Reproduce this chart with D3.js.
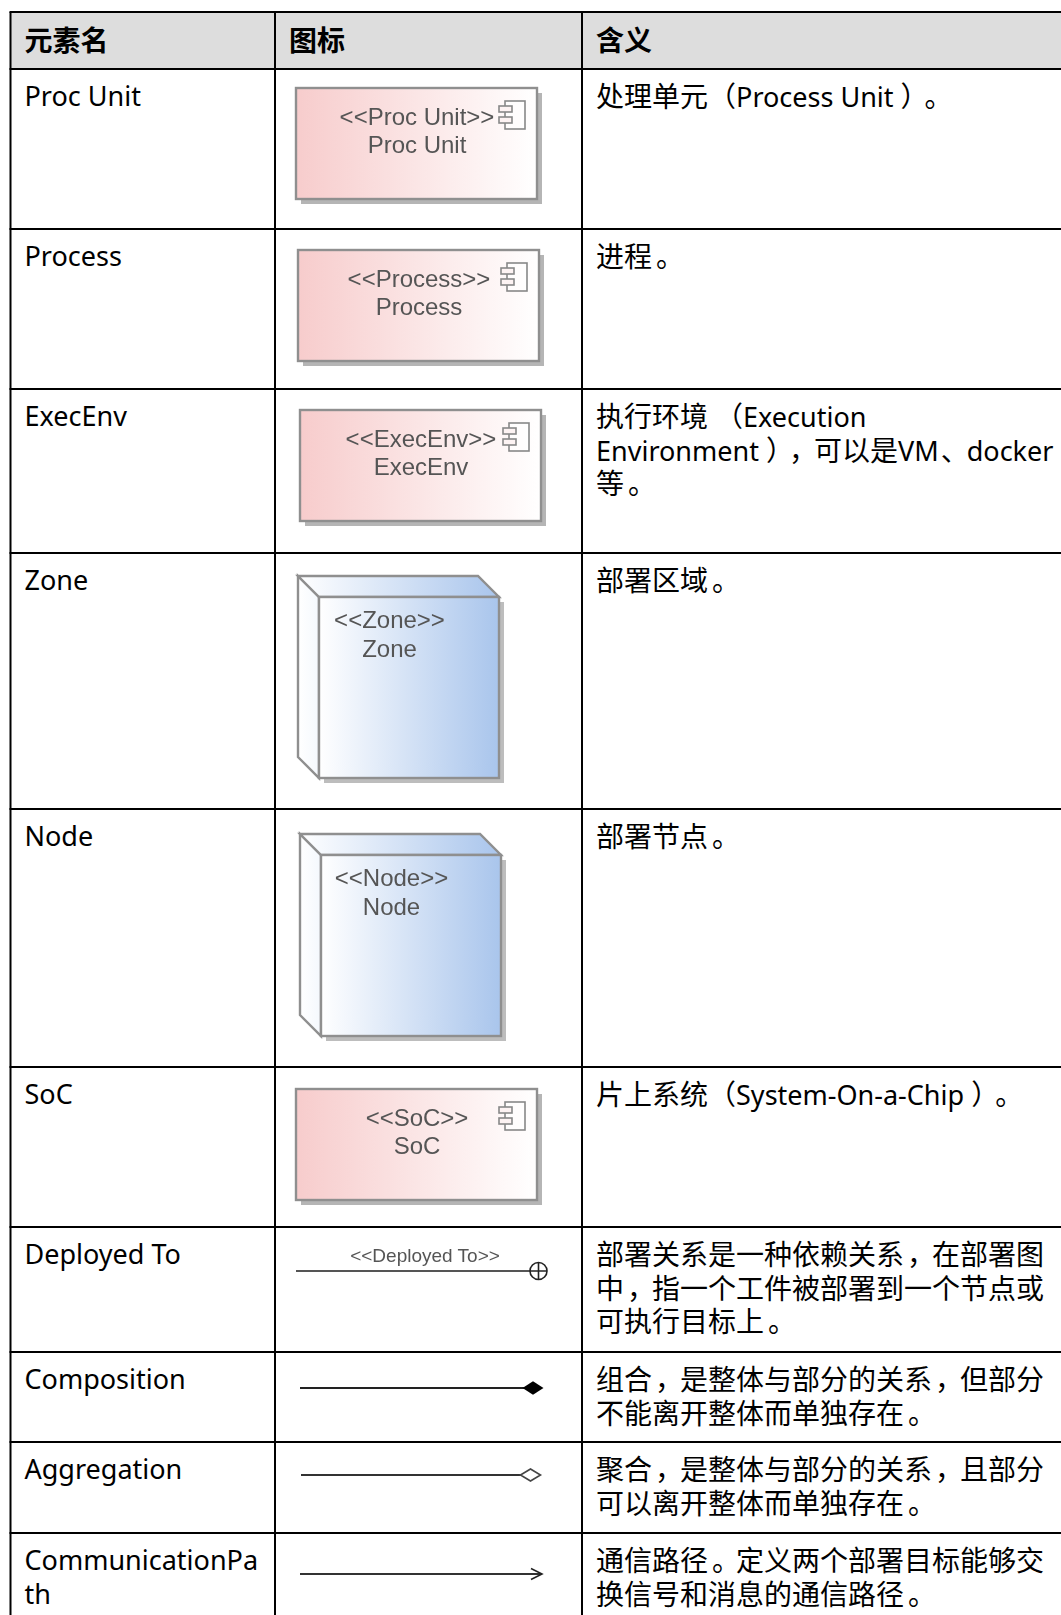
<!DOCTYPE html>
<html lang="zh">
<head>
    <meta charset="UTF-8">
    <title>元素</title>
    <style>
        html, body { margin: 0; padding: 0; background: #fff; }
        svg { display: block; }
        .cell { font-family: "Noto Sans", "Noto Sans CJK SC", sans-serif; font-size: 28px; fill: #000; white-space: pre; }
        .cell .latin, .name { font-size: 27px; }
        .head { font-family: "Noto Sans", "Noto Sans CJK SC", sans-serif; font-size: 28px; font-weight: 700; fill: #000; }
        .icon-text { font-family: "Liberation Sans", Arial, sans-serif; font-size: 24px; fill: #555; text-anchor: middle; }
    </style>
</head>
<body>
<script src="https://cdn.jsdelivr.net/npm/d3@7/dist/d3.min.js"></script>
<script>
    // table content
    let headers = ["元素名", "图标", "含义"];
    let elements = ["Proc Unit", "Process", "ExecEnv", "Zone", "Node", "SoC", "Deployed To", "Composition", "Aggregation", "CommunicationPath"];
    let nameLines = [["Proc Unit"], ["Process"], ["ExecEnv"], ["Zone"], ["Node"], ["SoC"], ["Deployed To"], ["Composition"], ["Aggregation"], ["CommunicationPa", "th"]];
    let iconKinds = ["component", "component", "component", "node", "node", "component", "deployed", "composition", "aggregation", "path"];
    let meanings = [
        ["处理单元（ Process Unit ）。"],
        ["进程。"],
        ["执行环境 （ Execution", "Environment ），可以是VM、docker", "等。"],
        ["部署区域。"],
        ["部署节点。"],
        ["片上系统（ System-On-a-Chip ）。"],
        ["部署关系是一种依赖关系，在部署图", "中，指一个工件被部署到一个节点或", "可执行目标上。"],
        ["组合，是整体与部分的关系，但部分", "不能离开整体而单独存在。"],
        ["聚合，是整体与部分的关系，且部分", "可以离开整体而单独存在。"],
        ["通信路径。定义两个部署目标能够交", "换信号和消息的通信路径。"]
    ];

    let width = 1061;
    let height = 1615;
    let headerTop = 12;
    let headerBottom = 69;

    // layout, kept apart from the content above
    let rowTops = [69, 229, 389, 553, 809, 1067, 1227, 1352, 1442, 1533];
    let colEdges = [10.5, 275, 582];
    let iconLeft = [296, 298, 300, 298, 300, 296, 296, 300, 301, 300];
    let iconTop = [88, 250, 410, 576, 834, 1089, 1271, 1388, 1475, 1574];
    // punctuation sits further right in its cell than the installed CJK font puts it:
    // [shift before the glyph, change of its advance, gap after it]
    let punctShift = {
        "（": [0, -7, 0],
        "）": [0, 0, 6],
        "。": [4, -4, 0],
        "，": [3, -3, 0],
        "、": [2, -2, 0]
    };

    let rowY = d3.scaleOrdinal().domain(elements).range(rowTops);
    let iconX = d3.scaleOrdinal().domain(elements).range(iconLeft);
    let iconY = d3.scaleOrdinal().domain(elements).range(iconTop);
    let colX = d3.scaleOrdinal().domain(headers).range(colEdges);
    let lineY = d3.scaleLinear().domain([0, 1]).range([38, 71.5]);

    let svg = d3.select("body").append("svg")
        .attr("width", width)
        .attr("height", height);

    let defs = svg.append("defs");
    function gradient(id, stops) {
        let g = defs.append("linearGradient").attr("id", id);
        stops.forEach((c, i) => {
            g.append("stop").attr("offset", i / (stops.length - 1)).attr("stop-color", c);
        });
    }
    gradient("pink", ["#f7cccc", "#ffffff"]);
    gradient("blue", ["#ffffff", "#a9c5ec"]);
    gradient("side", ["#ffffff", "#f4f8fd"]);
    defs.append("filter").attr("id", "soft")
        .append("feGaussianBlur").attr("stdDeviation", 0.5);

    // header band
    svg.append("rect")
        .attr("x", colEdges[0])
        .attr("y", headerTop)
        .attr("width", width - colEdges[0])
        .attr("height", headerBottom - headerTop)
        .attr("fill", "#dddddd");

    svg.selectAll("text.head")
        .data(headers)
        .enter()
        .append("text")
        .attr("class", "head")
        .attr("x", d => colX(d) + 14)
        .attr("y", 51)
        .text(d => d);

    // one line of the meaning column, cut into runs so latin and punctuation can differ
    function fillRuns(text, line) {
        let pending = 0;
        line.split(/([（）。，、]|[ -~]+)/).filter(s => s.length > 0).forEach(run => {
            let shift = punctShift[run] || [0, 0, 0];
            let span = text.append("tspan")
                .attr("dx", pending + shift[0])
                .style("letter-spacing", shift[1] + "px")
                .text(run);
            if (/^[ -~]/.test(run)) span.attr("class", "latin");
            pending = shift[2];
        });
    }

    // rows
    let rows = svg.selectAll("g.row")
        .data(elements)
        .enter()
        .append("g")
        .attr("class", "row");

    rows.each(function (d, i) {
        let row = d3.select(this);
        row.selectAll("text.name")
            .data(nameLines[i])
            .enter()
            .append("text")
            .attr("class", "cell name")
            .attr("x", colX(headers[0]) + 14)
            .attr("y", (t, j) => rowY(d) + lineY(j) - 1)
            .text(t => t);
        row.selectAll("text.meaning")
            .data(meanings[i])
            .enter()
            .append("text")
            .attr("class", "cell meaning")
            .attr("x", colX(headers[2]) + 14)
            .attr("y", (t, j) => rowY(d) + lineY(j))
            .each(function (t) { fillRuns(d3.select(this), t); });
    });

    // icons
    function drawComponent(g, label) {
        g.append("rect").attr("x", 5).attr("y", 5).attr("width", 241).attr("height", 111).attr("fill", "#b5b5b5");
        g.append("rect").attr("width", 241).attr("height", 111)
            .attr("fill", "url(#pink)").attr("stroke", "#8f8f8f").attr("stroke-width", 2.4);
        g.append("text").attr("class", "icon-text").attr("x", 121).attr("y", 37).text("<<" + label + ">>");
        g.append("text").attr("class", "icon-text").attr("x", 121).attr("y", 65).text(label);
        g.append("rect").attr("x", 209).attr("y", 13).attr("width", 20).attr("height", 28)
            .attr("fill", "#fff").attr("fill-opacity", 0.6).attr("stroke", "#888").attr("stroke-width", 1.6);
        [18, 29].forEach(y => {
            g.append("rect").attr("x", 203).attr("y", y).attr("width", 13).attr("height", 6)
                .attr("fill", "#fdf3f3").attr("stroke", "#888").attr("stroke-width", 1.6);
        });
    }

    function drawNode(g, label) {
        let d = 21, w = 180, h = 181, path = d3.path();
        g.append("rect").attr("x", d + 5).attr("y", d + 5).attr("width", w).attr("height", h).attr("fill", "#bdbdbd");
        path.moveTo(0, 0); path.lineTo(d, d); path.lineTo(d, d + h); path.lineTo(0, h); path.closePath();
        g.append("path").attr("d", path.toString()).attr("fill", "url(#side)").attr("stroke", "#8f8f8f").attr("stroke-width", 2.4);
        path = d3.path();
        path.moveTo(0, 0); path.lineTo(w, 0); path.lineTo(w + d, d); path.lineTo(d, d); path.closePath();
        g.append("path").attr("d", path.toString()).attr("fill", "url(#blue)").attr("stroke", "#8f8f8f").attr("stroke-width", 2.4);
        g.append("rect").attr("x", d).attr("y", d).attr("width", w).attr("height", h)
            .attr("fill", "url(#blue)").attr("stroke", "#8f8f8f").attr("stroke-width", 2.4);
        g.append("text").attr("class", "icon-text").attr("x", 91.5).attr("y", 52).text("<<" + label + ">>");
        g.append("text").attr("class", "icon-text").attr("x", 91.5).attr("y", 81).text(label);
    }

    function drawDeployed(g, label) {
        g.append("line").attr("x2", 242).attr("stroke", "#555").attr("stroke-width", 2.2);
        g.append("text").attr("class", "icon-text").attr("x", 129).attr("y", -9)
            .style("font-size", "19px").text("<<" + label + ">>");
        g.append("circle").attr("cx", 242.5).attr("r", 8.5).attr("fill", "#fff").attr("stroke", "#222").attr("stroke-width", 1.6);
        g.append("path").attr("d", "M234,0H251M242.5,-8.5V8.5").attr("stroke", "#222").attr("stroke-width", 1.6);
    }

    function drawComposition(g) {
        g.append("line").attr("x2", 224).attr("stroke", "#222").attr("stroke-width", 1.8);
        g.append("path").attr("d", "M222.5,0L233,-6.8L243.5,0L233,6.8Z").attr("fill", "#000");
    }

    function drawAggregation(g) {
        g.append("line").attr("x2", 220).attr("stroke", "#333").attr("stroke-width", 1.8);
        g.append("path").attr("d", "M219.5,0L229.5,-6L239.5,0L229.5,6Z").attr("fill", "#fff").attr("stroke", "#444").attr("stroke-width", 1.6);
    }

    function drawPath(g) {
        g.append("line").attr("x2", 242).attr("stroke", "#333").attr("stroke-width", 1.8);
        g.append("path").attr("d", "M231,-5.5L242,0L231,5.5").attr("fill", "none").attr("stroke", "#222").attr("stroke-width", 1.6);
    }

    let drawers = {
        component: drawComponent,
        node: drawNode,
        deployed: drawDeployed,
        composition: drawComposition,
        aggregation: drawAggregation,
        path: drawPath
    };

    svg.selectAll("g.icon")
        .data(elements)
        .enter()
        .append("g")
        .attr("class", "icon")
        .attr("filter", "url(#soft)")
        .attr("transform", d => "translate(" + iconX(d) + "," + iconY(d) + ")")
        .each(function (d, i) {
            drawers[iconKinds[i]](d3.select(this), d);
        });

    // grid
    let grid = svg.append("g").attr("stroke", "#000").attr("stroke-width", 2);
    grid.selectAll("line.h")
        .data([headerTop].concat(rowTops))
        .enter()
        .append("line")
        .attr("class", "h")
        .attr("x1", colEdges[0] - 1)
        .attr("x2", width)
        .attr("y1", d => d)
        .attr("y2", d => d);
    grid.selectAll("line.v")
        .data(colEdges)
        .enter()
        .append("line")
        .attr("class", "v")
        .attr("x1", d => d)
        .attr("x2", d => d)
        .attr("y1", headerTop)
        .attr("y2", height);
</script>
</body>
</html>
